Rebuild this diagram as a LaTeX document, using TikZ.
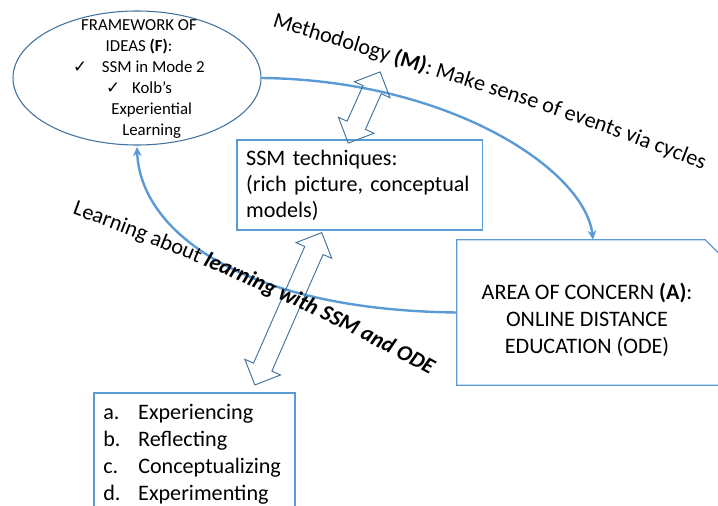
\documentclass[tikz,border=0pt]{standalone}
\usepackage{fontspec}
\setmainfont{Carlito}
\newfontfamily\symfont{DejaVu Sans}
\usetikzlibrary{shapes.geometric,decorations.text,arrows.meta,calc}
\definecolor{arcblue}{HTML}{5B9BD5}
\definecolor{edgeblue}{HTML}{41719C}
\newcommand{\mainsize}{\fontsize{16.6pt}{20pt}\selectfont}
\newcommand{\smallsize}{\fontsize{12.6pt}{15.75pt}\selectfont}
% two-headed block arrow: centre, angle, half length (all in px units)
\newcommand{\twowayarrow}[3]{%
  \begin{scope}[shift={#1},rotate=#2]
    \draw[blockarrow] (-#3,0) -- (-#3+19.5,19.5) -- (-#3+19.5,10) -- (#3-19.5,10)
      -- (#3-19.5,19.5) -- (#3,0) -- (#3-19.5,-19.5) -- (#3-19.5,-10)
      -- (-#3+19.5,-10) -- (-#3+19.5,-19.5) -- cycle;
  \end{scope}}
\begin{document}
\begin{tikzpicture}[x=0.75pt,y=-0.75pt,
  arc/.style={draw=arcblue,line width=1.8pt,-{Stealth[length=7pt,width=6.5pt]}},
  boxline/.style={draw=arcblue,line width=1pt},
  blockarrow/.style={draw=edgeblue,line width=0.7pt,line join=miter},
  label/.style={font=\mainsize,inner sep=0pt}]
\path[use as bounding box] (0,0) rectangle (718,506);
\clip (0,0) rectangle (718,506);

% framework of ideas
\node[ellipse,draw=edgeblue,line width=0.8pt,minimum width=186pt,
  minimum height=100.5pt,inner sep=0pt] (F) at (137,78) {};
\node[font=\smallsize,align=center,inner sep=0pt] (Ftext) at (139,79)
  {FRAMEWORK OF\\IDEAS \textbf{(F)}:\\
   {\symfont ✓}\hspace{11pt}SSM in Mode 2\\
   {\symfont ✓}\hspace{9pt}Kolb’s\\
   \hspace{19pt}Experiential\\
   \hspace{19pt}Learning};

% SSM techniques
\node[boxline,minimum width=184pt,minimum height=67.5pt,text width=170pt,
  inner xsep=7pt,align=left,font=\mainsize,
  execute at begin node=\setlength{\baselineskip}{19.5pt}] (S) at (359.5,185)
  {SSM techniques:\\(rich picture, conceptual\\models)};

% area of concern
\node[minimum width=204pt,minimum height=108.75pt,inner sep=0pt] (Abox) at (593,312.5) {};
\draw[boxline] (Abox.north west) -- ($(Abox.north east)+(-24,0)$)
  -- ($(Abox.north east)+(0,24)$) -- (Abox.south east) -- (Abox.south west) -- cycle;
\node[label,align=center,execute at begin node=\setlength{\baselineskip}{20.25pt}]
  (Atext) at (587,320) {AREA OF CONCERN \textbf{(A)}:\\ONLINE DISTANCE\\EDUCATION (ODE)};

% Kolb's stages
\node[boxline,minimum width=150.75pt,minimum height=97.5pt,inner sep=0pt] (K) at (194.5,458) {};
\node[label,align=left,anchor=north west,
  execute at begin node=\setlength{\baselineskip}{20.25pt}] (Ktext) at (103,404)
  {\makebox[26.25pt][l]{a.}Experiencing\\
   \makebox[26.25pt][l]{b.}Reflecting\\
   \makebox[26.25pt][l]{c.}Conceptualizing\\
   \makebox[26.25pt][l]{d.}Experimenting};

% cycles
\draw[arc] (F.east) .. controls (450,80) and (585,170) .. (Abox.north);
\draw[arc] (Abox.west) .. controls (240,310) and (140,230) .. ([yshift=-1pt]F.south);

% two-way links (outline only)
\twowayarrow{(364.2,107.5)}{65.9}{39}
\twowayarrow{(288.3,308.8)}{66.3}{83.2}

% arc labels
\path[decorate,decoration={text along path,
  text={|\mainsize|Methodology |\mainsize\bfseries|(M)|\mainsize|: Make sense of events via cycles}}]
  (272,26) .. controls (420,72) and (580,118) .. (740,185);
\path[decorate,decoration={text along path,
  text={|\mainsize|Learning about |\mainsize\bfseries\itshape|learning with SSM and ODE}}]
  (72,214) .. controls (200,260) and (330,318) .. (470,397);
\end{tikzpicture}
\end{document}
